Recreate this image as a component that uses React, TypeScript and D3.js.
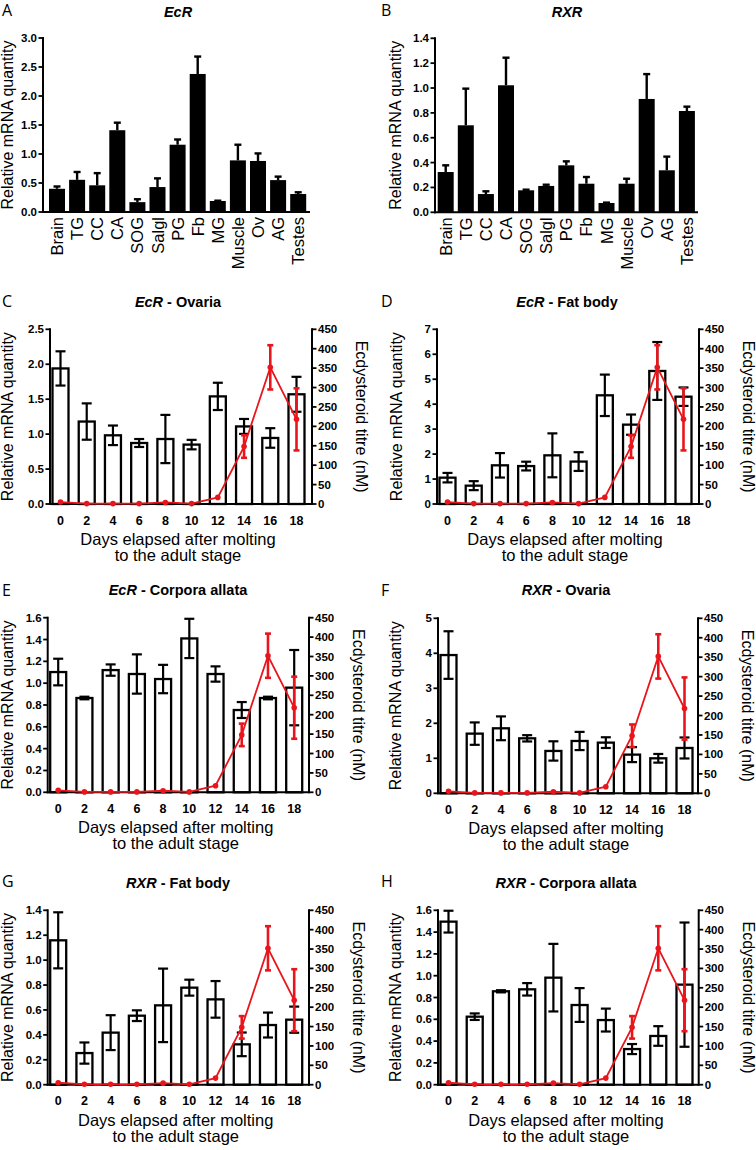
import React from 'react';
import * as d3 from 'd3';

// ---------- Data ----------
const tissues = ['Brain', 'TG', 'CC', 'CA', 'SOG', 'Salgl', 'PG', 'Fb', 'MG', 'Muscle', 'Ov', 'AG', 'Testes'];
const ecrTissueMean = [0.40, 0.555, 0.46, 1.41, 0.17, 0.43, 1.16, 2.38, 0.19, 0.89, 0.88, 0.55, 0.31];
const ecrTissueSE = [0.04, 0.135, 0.21, 0.13, 0.05, 0.15, 0.09, 0.30, 0.005, 0.27, 0.13, 0.06, 0.03];
const rxrTissueMean = [0.324, 0.70, 0.147, 1.022, 0.177, 0.212, 0.378, 0.23, 0.075, 0.23, 0.912, 0.338, 0.815];
const rxrTissueSE = [0.054, 0.295, 0.022, 0.222, 0.005, 0.01, 0.032, 0.054, 0.003, 0.04, 0.20, 0.11, 0.035];

const days = [0, 2, 4, 6, 8, 10, 12, 14, 16, 18];
const ecdysteroidMean = [5, 1, 1, 1, 4, 1, 17, 148, 352, 218];
const ecdysteroidSE = [0, 0, 0, 0, 0, 0, 0, 29, 57, 80];

const ecrOvariaMean = [1.94, 1.18, 0.983, 0.873, 0.93, 0.85, 1.54, 1.11, 0.945, 1.57];
const ecrOvariaSE = [0.245, 0.26, 0.14, 0.057, 0.345, 0.068, 0.195, 0.107, 0.14, 0.25];
const ecrFatBodyMean = [1.055, 0.735, 1.55, 1.52, 1.95, 1.70, 4.355, 3.18, 5.33, 4.30];
const ecrFatBodySE = [0.19, 0.18, 0.49, 0.175, 0.88, 0.375, 0.83, 0.405, 1.16, 0.37];
const ecrCAMean = [1.102, 0.864, 1.12, 1.084, 1.038, 1.41, 1.084, 0.754, 0.864, 0.959];
const ecrCASE = [0.122, 0.012, 0.052, 0.18, 0.13, 0.18, 0.07, 0.073, 0.012, 0.345];
const rxrOvariaMean = [3.95, 1.705, 1.857, 1.571, 1.21, 1.495, 1.448, 1.105, 1.0, 1.295];
const rxrOvariaSE = [0.68, 0.32, 0.34, 0.09, 0.276, 0.26, 0.153, 0.214, 0.124, 0.30];
const rxrFatBodyMean = [1.159, 0.254, 0.418, 0.554, 0.637, 0.779, 0.685, 0.324, 0.479, 0.522];
const rxrFatBodySE = [0.225, 0.085, 0.14, 0.043, 0.295, 0.064, 0.147, 0.095, 0.10, 0.105];
const rxrCAMean = [1.496, 0.624, 0.857, 0.875, 0.982, 0.731, 0.593, 0.327, 0.447, 0.918];
const rxrCASE = [0.10, 0.03, 0.01, 0.057, 0.31, 0.155, 0.105, 0.046, 0.09, 0.57];

const rightTicks = [0, 50, 100, 150, 200, 250, 300, 350, 400, 450];

// ---------- Styles ----------
const FONT = "Liberation Sans, Arial, sans-serif";
const LETTER_FONT = "Open Sans, Liberation Sans, sans-serif";
const RED = '#e8161c';

function yTicks(max: number, step: number) {
  return d3.range(0, max + step / 2, step);
}

function PanelLetter({ x, y, t }: { x: number; y: number; t: string }) {
  return (
    <text x={x} y={y} fontFamily={LETTER_FONT} fontSize={16}>{t}</text>
  );
}

function Title({ x, y, gene, rest }: { x: number; y: number; gene: string; rest?: string }) {
  return (
    <text x={x} y={y} textAnchor="middle" fontFamily={FONT} fontSize={14.5} fontWeight="bold">
      <tspan fontStyle="italic">{gene}</tspan>
      {rest ? <tspan>{' - ' + rest}</tspan> : null}
    </text>
  );
}

function LeftAxis({ y, left, max, step, fmt }: any) {
  const ticks = yTicks(max, step);
  return (
    <g>
      <line x1={left} x2={left} y1={y(max) - 1} y2={y(0) + 1} stroke="#000" strokeWidth={2} />
      {ticks.map((t: number) => (
        <g key={t}>
          <line x1={left - 4.5} x2={left} y1={y(t)} y2={y(t)} stroke="#000" strokeWidth={1.8} />
          <text x={left - 6} y={y(t) + 4} textAnchor="end" fontFamily={FONT} fontSize={11.5} fontWeight="bold">
            {fmt(t)}
          </text>
        </g>
      ))}
    </g>
  );
}

interface TissueProps {
  letter: string; letterX: number; letterY: number;
  gene: string; titleX: number; titleY: number;
  mean: number[]; se: number[];
  yMax: number; yStep: number;
  left: number; right: number; top: number; bottom: number;
  firstBar: number; yLabelX: number;
}

function TissuePanel(p: TissueProps) {
  const y = d3.scaleLinear().domain([0, p.yMax]).range([p.bottom, p.top]);
  const pitch = 20.1;
  const barW = 16;
  const x = d3.scalePoint<string>().domain(tissues)
    .range([p.left + p.firstBar + barW / 2, p.left + p.firstBar + barW / 2 + pitch * (tissues.length - 1)]);
  const fmt = d3.format('.1f');
  return (
    <g>
      <PanelLetter x={p.letterX} y={p.letterY} t={p.letter} />
      <Title x={p.titleX} y={p.titleY} gene={p.gene} />
      {tissues.map((c, i) => {
        const cx = x(c)!;
        const v = p.mean[i];
        const e = v + p.se[i];
        return (
          <g key={c}>
            <rect x={cx - barW / 2} y={y(v)} width={barW} height={p.bottom - y(v)} fill="#000" />
            <line x1={cx} x2={cx} y1={y(v)} y2={y(e)} stroke="#000" strokeWidth={2.4} />
            <line x1={cx - 3.5} x2={cx + 3.5} y1={y(e)} y2={y(e)} stroke="#000" strokeWidth={2.4} />
            <text transform={`translate(${cx + 6},${p.bottom + 5}) rotate(-90)`} textAnchor="end"
              fontFamily={FONT} fontSize={16.5}>{c}</text>
          </g>
        );
      })}
      <LeftAxis y={y} left={p.left} max={p.yMax} step={p.yStep} fmt={fmt} />
      <line x1={p.left - 1} x2={p.right} y1={p.bottom} y2={p.bottom} stroke="#000" strokeWidth={2} />
      <text transform={`translate(${p.yLabelX},${(p.top + p.bottom) / 2}) rotate(-90)`} textAnchor="middle"
        fontFamily={FONT} fontSize={16}>Relative mRNA quantity</text>
    </g>
  );
}

interface TimeProps {
  letter: string; letterX: number; letterY: number;
  gene: string; tissue: string; titleX: number; titleY: number;
  mean: number[]; se: number[];
  yMax: number; yStep: number; intTicks?: boolean;
  left: number; right: number; top: number; bottom: number;
  yLabelX: number;
}

function TimePanel(p: TimeProps) {
  const y = d3.scaleLinear().domain([0, p.yMax]).range([p.bottom, p.top]);
  const y2 = d3.scaleLinear().domain([0, 450]).range([p.bottom, p.top]);
  const x = d3.scalePoint<number>().domain(days).range([p.left + 10.5, p.left + 246.5]);
  const barW = 16;
  const fmt = p.intTicks ? d3.format('d') : d3.format('.1f');
  const line = d3.line<number>()
    .x((_, i) => x(days[i])!)
    .y((d) => y2(d))
    .curve(d3.curveLinear);
  const center = p.left + 128;
  return (
    <g>
      <PanelLetter x={p.letterX} y={p.letterY} t={p.letter} />
      <Title x={p.titleX} y={p.titleY} gene={p.gene} rest={p.tissue} />
      {days.map((d, i) => {
        const cx = x(d)!;
        const v = p.mean[i];
        const hi = v + p.se[i];
        const lo = v - p.se[i];
        return (
          <g key={d}>
            <rect x={cx - barW / 2} y={y(v)} width={barW} height={p.bottom - y(v)} fill="#fff" stroke="#000" strokeWidth={2.3} />
            <line x1={cx} x2={cx} y1={y(hi)} y2={y(lo)} stroke="#000" strokeWidth={2.2} />
            <line x1={cx - 5} x2={cx + 5} y1={y(hi)} y2={y(hi)} stroke="#000" strokeWidth={2.2} />
            <line x1={cx - 5} x2={cx + 5} y1={y(lo)} y2={y(lo)} stroke="#000" strokeWidth={2.2} />
            <text x={cx} y={p.bottom + 20.5} textAnchor="middle" fontFamily={FONT} fontSize={12.5} fontWeight="bold">{d}</text>
          </g>
        );
      })}
      <LeftAxis y={y} left={p.left} max={p.yMax} step={p.yStep} fmt={fmt} />
      {/* right axis */}
      <line x1={p.right} x2={p.right} y1={p.top - 1} y2={p.bottom + 1} stroke="#000" strokeWidth={2} />
      {rightTicks.map((t) => (
        <g key={t}>
          <line x1={p.right} x2={p.right + 4.5} y1={y2(t)} y2={y2(t)} stroke="#000" strokeWidth={1.8} />
          <text x={p.right + 6} y={y2(t) + 4} fontFamily={FONT} fontSize={11.5} fontWeight="bold">{t}</text>
        </g>
      ))}
      <line x1={p.left - 1} x2={p.right} y1={p.bottom} y2={p.bottom} stroke="#000" strokeWidth={2} />
      {/* ecdysteroid titre */}
      <path d={line(ecdysteroidMean) || ''} fill="none" stroke={RED} strokeWidth={1.8} />
      {days.map((d, i) => {
        const cx = x(d)!;
        const v = ecdysteroidMean[i];
        const s = ecdysteroidSE[i];
        return (
          <g key={'r' + d}>
            {s > 0 ? (
              <g stroke={RED} strokeWidth={2.6}>
                <line x1={cx} x2={cx} y1={y2(v + s)} y2={y2(v - s)} />
                <line x1={cx - 3} x2={cx + 3} y1={y2(v + s)} y2={y2(v + s)} />
                <line x1={cx - 3} x2={cx + 3} y1={y2(v - s)} y2={y2(v - s)} />
              </g>
            ) : null}
            <circle cx={cx} cy={y2(v)} r={2.8} fill={RED} />
          </g>
        );
      })}
      <text transform={`translate(${p.yLabelX},${(p.top + p.bottom) / 2}) rotate(-90)`} textAnchor="middle"
        fontFamily={FONT} fontSize={16}>Relative mRNA quantity</text>
      <text transform={`translate(${p.right + 44},${(p.top + p.bottom) / 2}) rotate(90)`} textAnchor="middle"
        fontFamily={FONT} fontSize={16}>Ecdysteroid titre (nM)</text>
      <text x={center} y={p.bottom + 41} textAnchor="middle" fontFamily={FONT} fontSize={16.5}>Days elapsed after molting</text>
      <text x={center} y={p.bottom + 57} textAnchor="middle" fontFamily={FONT} fontSize={16.5}>to the adult stage</text>
    </g>
  );
}

export default function App() {
  return (
    <svg width={756} height={1150} viewBox="0 0 756 1150"
      style={{ position: 'absolute', left: 0, top: 0, background: '#fff' }}>
      <rect x={0} y={0} width={756} height={1150} fill="#fff" />
      <TissuePanel letter="A" letterX={2} letterY={16} gene="EcR" titleX={178} titleY={16.5}
        mean={ecrTissueMean} se={ecrTissueSE} yMax={3.0} yStep={0.5}
        left={43} right={310} top={38} bottom={212} firstBar={6} yLabelX={13} />
      <TissuePanel letter="B" letterX={381} letterY={16} gene="RXR" titleX={567} titleY={16.5}
        mean={rxrTissueMean} se={rxrTissueSE} yMax={1.4} yStep={0.2}
        left={435} right={698} top={38.3} bottom={212.3} firstBar={2.7} yLabelX={401} />

      <TimePanel letter="C" letterX={2} letterY={307} gene="EcR" tissue="Ovaria" titleX={178} titleY={307}
        mean={ecrOvariaMean} se={ecrOvariaSE} yMax={2.5} yStep={0.5}
        left={50} right={312} top={329.3} bottom={504} yLabelX={13} />
      <TimePanel letter="D" letterX={381} letterY={307} gene="EcR" tissue="Fat body" titleX={567} titleY={307}
        mean={ecrFatBodyMean} se={ecrFatBodySE} yMax={7} yStep={1} intTicks
        left={437} right={699} top={329.3} bottom={504} yLabelX={402} />

      <TimePanel letter="E" letterX={2} letterY={596} gene="EcR" tissue="Corpora allata" titleX={178} titleY={595}
        mean={ecrCAMean} se={ecrCASE} yMax={1.6} yStep={0.2}
        left={47.7} right={309} top={617.7} bottom={792.3} yLabelX={13} />
      <TimePanel letter="F" letterX={381} letterY={596} gene="RXR" tissue="Ovaria" titleX={566} titleY={595}
        mean={rxrOvariaMean} se={rxrOvariaSE} yMax={5} yStep={1} intTicks
        left={438} right={698} top={618.3} bottom={793.3} yLabelX={401} />

      <TimePanel letter="G" letterX={2} letterY={887} gene="RXR" tissue="Fat body" titleX={178} titleY={887.7}
        mean={rxrFatBodyMean} se={rxrFatBodySE} yMax={1.4} yStep={0.2}
        left={47.7} right={309} top={910.3} bottom={1084.7} yLabelX={13} />
      <TimePanel letter="H" letterX={381} letterY={887} gene="RXR" tissue="Corpora allata" titleX={566} titleY={887.7}
        mean={rxrCAMean} se={rxrCASE} yMax={1.6} yStep={0.2}
        left={438} right={698.7} top={910.3} bottom={1084.7} yLabelX={401} />
    </svg>
  );
}
